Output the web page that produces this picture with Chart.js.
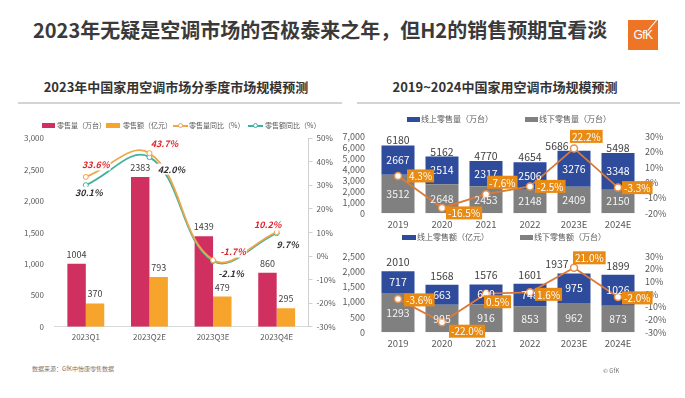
<!DOCTYPE html>
<html><head><meta charset="utf-8">
<script src="https://cdn.jsdelivr.net/npm/chart.js@4/dist/chart.umd.min.js"></script>
<style>
html,body{margin:0;padding:0;}
body{width:685px;height:398px;background:#fff;position:relative;overflow:hidden;font-family:"Noto Sans CJK SC","Noto Sans",sans-serif;}
.abs{position:absolute;white-space:nowrap;}
#title{left:33px;top:15px;font-size:20px;font-weight:bold;color:#3a3a3a;line-height:30px;}
#logo{left:628px;top:20px;width:30px;height:30px;background:#EE7526;color:#fff;font-size:12px;line-height:30px;text-align:center;font-family:"Liberation Sans",sans-serif;letter-spacing:-0.5px;overflow:hidden;}
#logo .sl{position:absolute;width:1px;height:14px;background:#fff;left:24px;top:-2px;transform:rotate(40deg);}
.sub{font-size:13px;font-weight:bold;color:#333;top:78px;line-height:18px;transform:translateX(-50%);}
.rule{height:1.5px;background:#d4d4d4;top:102px;}
canvas{position:absolute;}
.leg{font-size:7px;color:#595959;line-height:10px;}
.legR{font-size:8px;color:#595959;line-height:10px;}
.box{position:absolute;}
.foot{font-size:6px;color:#777;}
</style>
</head><body>
<div id="title" class="abs">2023年无疑是空调市场的否极泰来之年，但H2的销售预期宜看淡</div>
<div id="logo" class="abs">GfK<div class="sl"></div></div>
<div class="abs sub" style="left:176px;">2023年中国家用空调市场分季度市场规模预测</div>
<div class="abs sub" style="left:505px;">2019~2024中国家用空调市场规模预测</div>
<div class="abs rule" style="left:18px;width:324px;"></div>
<div class="abs rule" style="left:357px;width:323px;"></div>

<canvas id="c1" width="345" height="230" style="left:0;top:118px;"></canvas>
<canvas id="c2" width="350" height="112" style="left:335px;top:120px;"></canvas>
<canvas id="c3" width="350" height="112" style="left:335px;top:240px;"></canvas>

<!-- legends -->
<div class="box" style="left:42px;top:123px;width:13px;height:5px;background:#D0305F;"></div>
<div class="abs leg" style="left:57px;top:120px;">零售量（万台）</div>
<div class="box" style="left:106px;top:123px;width:14px;height:5px;background:#F6A42C;"></div>
<div class="abs leg" style="left:123px;top:120px;">零售额（亿元）</div>
<div class="box" style="left:173px;top:125px;width:15px;height:1.5px;background:#EFA54B;"></div>
<div class="box" style="left:177.5px;top:122.5px;width:5px;height:5px;border-radius:50%;background:#fff;border:1px solid #EFA54B;box-sizing:border-box;"></div>
<div class="abs leg" style="left:189px;top:120px;">零售量同比（%）</div>
<div class="box" style="left:248px;top:125px;width:15px;height:1.5px;background:#3FB29B;"></div>
<div class="box" style="left:252.5px;top:122.5px;width:5px;height:5px;border-radius:50%;background:#fff;border:1px solid #3FB29B;box-sizing:border-box;"></div>
<div class="abs leg" style="left:265px;top:120px;">零售额同比（%）</div>

<div class="box" style="left:407px;top:117px;width:13px;height:5px;background:#2F4B9B;"></div>
<div class="abs legR" style="left:421px;top:114px;">线上零售量（万台）</div>
<div class="box" style="left:525px;top:117px;width:13px;height:5px;background:#808080;"></div>
<div class="abs legR" style="left:539px;top:114px;">线下零售量（万台）</div>

<div class="box" style="left:402px;top:235px;width:14px;height:5px;background:#2F4B9B;"></div>
<div class="abs legR" style="left:417px;top:232px;">线上零售额（亿元）</div>
<div class="box" style="left:520px;top:235px;width:13px;height:5px;background:#808080;"></div>
<div class="abs legR" style="left:534px;top:232px;">线下零售额（万台）</div>

<div class="abs foot" style="left:32px;top:364px;">数据来源：GfK中怡康零售数据</div>
<div class="abs foot" style="left:603px;top:366px;">© GfK</div>

<script>
// ---------------- data ----------------
const quarters = ['2023Q1', '2023Q2E', '2023Q3E', '2023Q4E'];
const quarterVolume = [1004, 2383, 1439, 860];      // 零售量（万台）
const quarterValue = [370, 793, 479, 295];          // 零售额（亿元）
const quarterVolumeYoY = [33.6, 43.7, -1.7, 10.2];  // 零售量同比（%）
const quarterValueYoY = [30.1, 42.0, -2.1, 9.7];    // 零售额同比（%）
const quarterLeftTicks = [0, 500, 1000, 1500, 2000, 2500, 3000];
const quarterRightTicks = [-30, -20, -10, 0, 10, 20, 30, 40, 50];

const years = ['2019', '2020', '2021', '2022', '2023E', '2024E'];
const onlineVolume = [2667, 2514, 2317, 2506, 3276, 3348];   // 线上零售量（万台）
const offlineVolume = [3512, 2648, 2453, 2148, 2409, 2150];  // 线下零售量（万台）
const totalVolume = [6180, 5162, 4770, 4654, 5686, 5498];
const volumeYoY = [4.3, -16.5, -7.6, -2.5, 22.2, -3.3];
const volumeLeftTicks = [0, 1000, 2000, 3000, 4000, 5000, 6000, 7000];
const volumeRightTicks = [-20, -10, 0, 10, 20, 30];

const onlineValue = [717, 663, 660, 748, 975, 1026];         // 线上零售额（亿元）
const offlineValue = [1293, 905, 916, 853, 962, 873];        // 线下零售额
const totalValue = [2010, 1568, 1576, 1601, 1937, 1899];
const valueYoY = [-3.6, -22.0, 0.5, 1.6, 21.0, -2.0];
const valueLeftTicks = [0, 500, 1000, 1500, 2000, 2500];
const valueRightTicks = [-30, -20, -10, 0, 10, 20, 30];

// ---------------- styles ----------------
const FONT = '"Noto Sans CJK SC", "Noto Sans", sans-serif';
const PINK = '#D0305F', ORANGE = '#F6A42C', LINE_OR = '#EFA54B', TEAL = '#3FB29B';
const NAVY = '#2F4B9B', GREY = '#808080', LINE_R = '#DB7A38', BOX = '#E98A12';

const fmtThousands = v => v.toLocaleString('en-US');
const fmtPct = v => v + '%';
const fixTicks = arr => (scale) => { scale.ticks = arr.map(v => ({ value: v })); };

function labelWithBg(ctx, txt, x, y, font, color, bg) {
  ctx.font = font;
  const w = ctx.measureText(txt).width;
  if (bg) { ctx.fillStyle = bg; ctx.fillRect(x - w / 2 - 1, y - 5.5, w + 2, 11); }
  ctx.fillStyle = color;
  ctx.textAlign = 'center';
  ctx.textBaseline = 'middle';
  ctx.fillText(txt, x, y);
}

// ---------------- chart 1 ----------------
const leftLabels = {
  id: 'leftLabels',
  afterDatasetsDraw(chart, args, opts) {
    const ctx = chart.ctx;
    ctx.save();
    [2, 3].forEach(di => {
      const meta = chart.getDatasetMeta(di);
      meta.data.forEach((el, i) => {
        labelWithBg(ctx, String(chart.data.datasets[di].data[i]), el.x, el.y - 9.5, '9px ' + FONT, '#404040', '#fff');
      });
    });
    const specs = [
      { di: 0, color: '#E0262C', off: opts.volOff },
      { di: 1, color: '#333333', off: opts.valOff }
    ];
    specs.forEach(s => {
      const meta = chart.getDatasetMeta(s.di);
      meta.data.forEach((el, i) => {
        const v = chart.data.datasets[s.di].data[i];
        labelWithBg(ctx, v.toFixed(1) + '%', el.x + s.off[i][0], el.y + s.off[i][1],
          'italic bold 9px ' + FONT, s.color, '#fff');
      });
    });
    ctx.restore();
  }
};

new Chart(document.getElementById('c1'), {
  data: {
    labels: quarters,
    datasets: [
      { type: 'line', label: '零售量同比（%）', data: quarterVolumeYoY, yAxisID: 'y1',
        borderColor: LINE_OR, borderWidth: 1.8, tension: 0.4,
        pointRadius: 2.5, pointBackgroundColor: '#fff', pointBorderColor: LINE_OR, pointBorderWidth: 1 },
      { type: 'line', label: '零售额同比（%）', data: quarterValueYoY, yAxisID: 'y1',
        borderColor: TEAL, borderWidth: 1.8, tension: 0.4,
        pointRadius: 2.5, pointBackgroundColor: '#fff', pointBorderColor: TEAL, pointBorderWidth: 1 },
      { type: 'bar', label: '零售量（万台）', data: quarterVolume, yAxisID: 'y',
        backgroundColor: PINK, categoryPercentage: 0.58, barPercentage: 1 },
      { type: 'bar', label: '零售额（亿元）', data: quarterValue, yAxisID: 'y',
        backgroundColor: ORANGE, categoryPercentage: 0.58, barPercentage: 1 }
    ]
  },
  options: {
    responsive: false, animation: false, devicePixelRatio: 1,
    layout: { padding: { top: 20.3, left: 0, right: 0, bottom: 0 } },
    plugins: {
      legend: { display: false }, tooltip: { enabled: false },
      leftLabels: {
        volOff: [[10, -12], [15, -10], [20, -8], [-9, -7]],
        valOff: [[3, 7], [22, 12], [18, 13], [11, 11]]
      }
    },
    scales: {
      x: {
        afterFit: s => { s.height = 21.3; },
        grid: { display: false, drawTicks: false },
        border: { display: true, color: '#d9d9d9' },
        ticks: { font: { size: 8, family: FONT }, color: '#595959', padding: 5, maxRotation: 0, autoSkip: false }
      },
      y: {
        position: 'left', min: 0, max: 3000,
        afterFit: s => { s.width = 54; },
        afterBuildTicks: fixTicks(quarterLeftTicks),
        grid: { display: false, drawTicks: false },
        border: { display: false },
        ticks: { font: { size: 8, family: FONT }, color: '#595959', padding: 10, autoSkip: false, callback: v => fmtThousands(v) }
      },
      y1: {
        position: 'right', min: -30, max: 50,
        afterFit: s => { s.width = 36.5; },
        afterBuildTicks: fixTicks(quarterRightTicks),
        grid: { drawOnChartArea: false, drawTicks: true, tickLength: 4, color: '#d0d0d0' },
        border: { display: true, color: '#d0d0d0' },
        ticks: { font: { size: 8, family: FONT }, color: '#595959', padding: 4, autoSkip: false, callback: v => fmtPct(v) }
      }
    }
  },
  plugins: [leftLabels]
});

// ---------------- charts 2 & 3 ----------------
const stackLabels = {
  id: 'stackLabels',
  afterDatasetsDraw(chart, args, opts) {
    const ctx = chart.ctx;
    ctx.save();
    // segment labels
    [1, 2].forEach(di => {
      const meta = chart.getDatasetMeta(di);
      meta.data.forEach((el, i) => {
        const cy = (el.y + el.base) / 2;
        labelWithBg(ctx, String(chart.data.datasets[di].data[i]), el.x, cy, '10.5px ' + FONT,
          di === 2 ? '#ffffff' : '#f4f4f4', null);
      });
    });
    // totals
    const top = chart.getDatasetMeta(2);
    top.data.forEach((el, i) => {
      labelWithBg(ctx, String(opts.totals[i]), el.x + opts.totalShift[i], el.y - opts.gap,
        '10.5px ' + FONT, '#404040', null);
    });
    // yoy boxes
    const lm = chart.getDatasetMeta(0);
    ctx.font = '10px ' + FONT;
    lm.data.forEach((el, i) => {
      const v = chart.data.datasets[0].data[i];
      const txt = v.toFixed(1) + '%';
      const w = ctx.measureText(txt).width + 4;
      const h = 13;
      const lx = el.x + opts.boxOff[i][0];
      const cy = el.y + opts.boxOff[i][1];
      ctx.fillStyle = BOX;
      ctx.fillRect(lx, cy - h / 2, w, h);
      ctx.fillStyle = '#fff';
      ctx.textAlign = 'left';
      ctx.textBaseline = 'middle';
      ctx.fillText(txt, lx + 2, cy + 0.5);
    });
    ctx.restore();
  }
};

function stackedChart(id, online, offline, yoy, totals, leftMax, leftTicks, rMin, rMax, rightTicks, labelOpts, names) {
  return new Chart(document.getElementById(id), {
    data: {
      labels: years,
      datasets: [
        { type: 'line', label: '同比', data: yoy, yAxisID: 'y1', order: 0,
          borderColor: LINE_R, borderWidth: 1.8, tension: 0,
          pointRadius: 3.5, pointBackgroundColor: '#fff', pointBorderColor: '#E59050', pointBorderWidth: 1.5 },
        { type: 'bar', label: names[1], data: offline, yAxisID: 'y', order: 1,
          backgroundColor: GREY, categoryPercentage: 0.75, barPercentage: 1, stack: 's' },
        { type: 'bar', label: names[0], data: online, yAxisID: 'y', order: 1,
          backgroundColor: NAVY, categoryPercentage: 0.75, barPercentage: 1, stack: 's' }
      ]
    },
    options: {
      responsive: false, animation: false, devicePixelRatio: 1,
      layout: { padding: { top: labelOpts.padTop, left: 0, right: 0, bottom: 0 } },
      plugins: { legend: { display: false }, tooltip: { enabled: false }, stackLabels: labelOpts },
      scales: {
        x: {
          stacked: true,
          afterFit: s => { s.height = labelOpts.xH; },
          grid: { display: false, drawTicks: false },
          border: { display: false },
          ticks: { font: { size: 9.5, family: FONT }, color: '#595959', padding: 5, maxRotation: 0, autoSkip: false }
        },
        y: {
          stacked: true, position: 'left', min: 0, max: leftMax,
          afterFit: s => { s.width = 41; },
          afterBuildTicks: fixTicks(leftTicks),
          grid: { display: false, drawTicks: false },
          border: { display: false },
          ticks: { font: { size: 9, family: FONT }, color: '#595959', padding: 11, autoSkip: false, callback: v => fmtThousands(v) }
        },
        y1: {
          position: 'right', min: rMin, max: rMax,
          afterFit: s => { s.width = 45; },
          afterBuildTicks: fixTicks(rightTicks),
          grid: { display: false, drawTicks: false },
          border: { display: false },
          ticks: { font: { size: 9, family: FONT }, color: '#595959', padding: 5, autoSkip: false, callback: v => fmtPct(v) }
        }
      }
    },
    plugins: [stackLabels]
  });
}

stackedChart('c2', onlineVolume, offlineVolume, volumeYoY, totalVolume, 7000, volumeLeftTicks, -20, 30, volumeRightTicks, {
  padTop: 12.5, xH: 18.7, gap: 5, totals: totalVolume,
  totalShift: [0, 0, 0, 0, -17, 0],
  boxOff: [[9, 0], [4, 5], [1, -12], [5, 0], [-4, -12], [4, 0]]
}, ['线上零售量（万台）', '线下零售量（万台）']);

stackedChart('c3', onlineValue, offlineValue, valueYoY, totalValue, 2500, valueLeftTicks, -30, 30, valueRightTicks, {
  padTop: 10.7, xH: 19.7, gap: 9, totals: totalValue,
  totalShift: [0, 0, 0, 0, -17, 0],
  boxOff: [[6, 1], [7, 9], [-2, 8], [5, 2], [-1, -10], [4, 1]]
}, ['线上零售额（亿元）', '线下零售额（万台）']);
</script>
</body></html>
